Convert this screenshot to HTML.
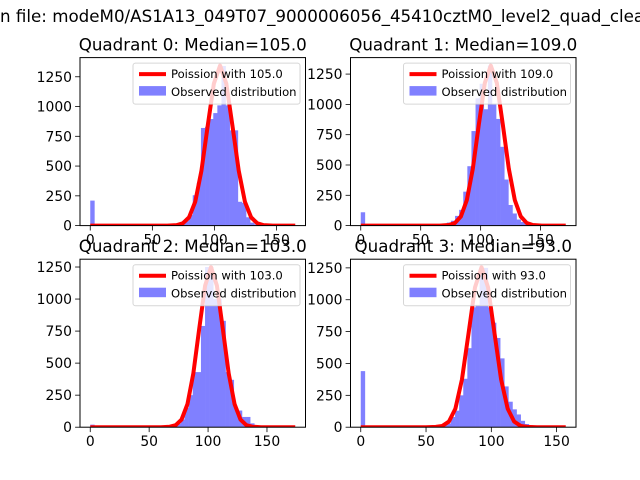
<!DOCTYPE html>
<html><head><meta charset="utf-8"><style>
html,body{margin:0;padding:0;background:#fff;}
svg{display:block;font-family:"DejaVu Sans","Liberation Sans",sans-serif;}
</style></head><body>
<svg id="fig" width="640" height="480" viewBox="0 0 640 480">
<text x="0" y="22" font-size="16.7">n file: modeM0/AS1A13_049T07_9000006056_45410cztM0_level2_quad_clean.evt</text>
</svg>
<script>
// ---- data ----
const quadrantNames = ["Quadrant 0: Median=105.0","Quadrant 1: Median=109.0","Quadrant 2: Median=103.0","Quadrant 3: Median=93.0"];
const legendLabels = ["Poission with 105.0","Poission with 109.0","Poission with 103.0","Poission with 93.0"];
const dataMax = [165, 171, 174, 157];
const yLimits = [1411, 1386, 1311, 1318];
const xTicks = [0, 50, 100, 150];
const yTicks = [0, 250, 500, 750, 1000, 1250];
const counts0 = [210,0,0,0,0,0,0,0,0,0,0,0,0,0,0,0,5,8,8,10,15,20,30,40,90,255,360,820,830,895,945,1010,1340,1010,800,800,200,190,70,25,10,0,0,0,0,0,0,0,0,0];
const counts1 = [110,0,0,0,0,0,0,0,0,0,0,0,0,0,0,0,5,6,8,10,15,25,40,80,130,280,490,780,1050,1170,960,1320,1000,880,650,380,170,100,50,30,10,0,0,0,0,0,0,0,0,0];
const counts2 = [20,0,0,0,0,0,0,0,0,0,0,0,0,0,0,0,0,0,8,10,12,25,60,150,250,430,430,790,1250,1250,1000,1000,830,430,370,150,130,80,80,30,10,0,0,0,0,0,0,0,0,0];
const counts3 = [440,0,0,0,0,0,0,0,0,0,0,0,0,0,0,0,0,0,0,0,20,30,80,130,250,380,620,940,960,1250,1250,940,820,700,540,320,200,140,100,50,25,15,5,0,0,0,0,0,0,0];
const curveX0 = [0,62,69.5,74.5,79.5,84.5,89.5,94.5,99.5,104.5,109.5,114.5,119.5,124.5,129.5,134.5,139.5,147,165];
const curveY0 = [0,0,4,19,69,200,462,835,1193,1344,1193,835,462,200,69,19,4,0,0];
const curveX1 = [0,66,73.5,78.5,83.5,88.5,93.5,98.5,103.5,108.5,113.5,118.5,123.5,128.5,133.5,138.5,143.5,151,171];
const curveY1 = [0,0,5,21,75,211,470,834,1177,1320,1177,834,470,211,75,21,5,0,0];
const curveX2 = [0,60,67.5,72.5,77.5,82.5,87.5,92.5,97.5,102.5,107.5,112.5,117.5,122.5,127.5,132.5,137.5,145,174];
const curveY2 = [0,0,4,16,60,180,420,769,1105,1249,1105,769,420,180,60,16,4,0,0];
const curveX3 = [0,50,57.5,62.5,67.5,72.5,77.5,82.5,87.5,92.5,97.5,102.5,107.5,112.5,117.5,122.5,127.5,135,157];
const curveY3 = [0,0,3,10,44,146,374,732,1097,1255,1097,732,374,146,44,10,3,0,0];
const allCounts = [counts0,counts1,counts2,counts3];
const allCX = [curveX0,curveX1,curveX2,curveX3];
const allCY = [curveY0,curveY1,curveY2,curveY3];

const NS = "http://www.w3.org/2000/svg";
const fig = document.getElementById('fig');
function mk(tag, attrs, parent){const e=document.createElementNS(NS,tag);for(const k in attrs)e.setAttribute(k,attrs[k]);(parent||fig).appendChild(e);return e;}

const boxes = [[80,57.6],[350.5,57.6],[80,259.2],[350.5,259.2]];
const W = 225.5, H = 168;
for (let q=0;q<4;q++){
  const [L,T] = boxes[q];
  const R = dataMax[q];
  const xmin = -0.05*R, xmax = 1.05*R;
  const ymax = yLimits[q];
  const sx = v => L + (v - xmin)/(xmax - xmin)*W;
  const sy = v => T + H - v/ymax*H;
  const g = mk('g',{});
  
  
  const clipId='clip'+q;
  const cp = mk('clipPath',{id:clipId},g);
  mk('rect',{x:L,y:T,width:W,height:H},cp);
  // bars
  const counts = allCounts[q];
  const bw = R/counts.length;
  const bars = mk('g',{'clip-path':'url(#'+clipId+')'},g);
  for (let k=0;k<counts.length;k++){
    if(!counts[k]) continue;
    const r = mk('rect',{x:sx(k*bw),y:sy(counts[k]),width:sx((k+1)*bw)-sx(k*bw)+0.3,height:sy(0)-sy(counts[k]),fill:'#8080ff'},bars);
    
    
  }
  // curve
  const cx = allCX[q], cy = allCY[q];
  let d='';
  for(let i=0;i<cx.length;i++) d += (i?'L':'M')+sx(cx[i]).toFixed(2)+' '+sy(cy[i]).toFixed(2);
  const p = mk('path',{d:d,fill:'none',stroke:'#ff0000','stroke-width':4,'stroke-linejoin':'round','clip-path':'url(#'+clipId+')'},g);
  
  
  // frame
  const fr = mk('rect',{x:L,y:T,width:W,height:H,fill:'none',stroke:'#000','stroke-width':1},g);
  
  
  xTicks.forEach(t=>{
    const x=sx(t);
    mk('line',{x1:x,x2:x,y1:T+H,y2:T+H+4.9,stroke:'#000','stroke-width':0.8},g);
    const tx = mk('text',{x:x,y:T+H+19,'font-size':13.9,'text-anchor':'middle'},g);
    tx.textContent=t;
    
    
  });
  yTicks.forEach(t=>{
    const y=sy(t);
    mk('line',{x1:L-4.9,x2:L,y1:y,y2:y,stroke:'#000','stroke-width':0.8},g);
    const tx = mk('text',{x:L-8,y:y+5,'font-size':13.9,'text-anchor':'end'},g);
    tx.textContent=t;
    
    
  });
  const ti = mk('text',{x:L+W/2,y:T-7,'font-size':16.7,'text-anchor':'middle'},g);
  ti.textContent = quadrantNames[q];
  
  
  const lg = mk('g',{},g);
  
  
  const lx = L+W-172.5, ly = T+5.5;
  mk('rect',{x:lx,y:ly,width:167,height:41,rx:2.5,fill:'#fff','fill-opacity':0.8,stroke:'#ccc','stroke-opacity':0.8,'stroke-width':1},lg);
  mk('line',{x1:lx+6,x2:lx+33,y1:ly+11,y2:ly+11,stroke:'#ff0000','stroke-width':4},lg);
  const t1 = mk('text',{x:lx+38,y:ly+15,'font-size':11.6},lg);
  t1.textContent = legendLabels[q];
  
  
  mk('rect',{x:lx+6,y:ly+23,width:27,height:9.5,fill:'#8080ff'},lg);
  const t2 = mk('text',{x:lx+38,y:ly+33,'font-size':11.6},lg);
  t2.textContent = 'Observed distribution';
  
  
}
</script>
</body></html>
